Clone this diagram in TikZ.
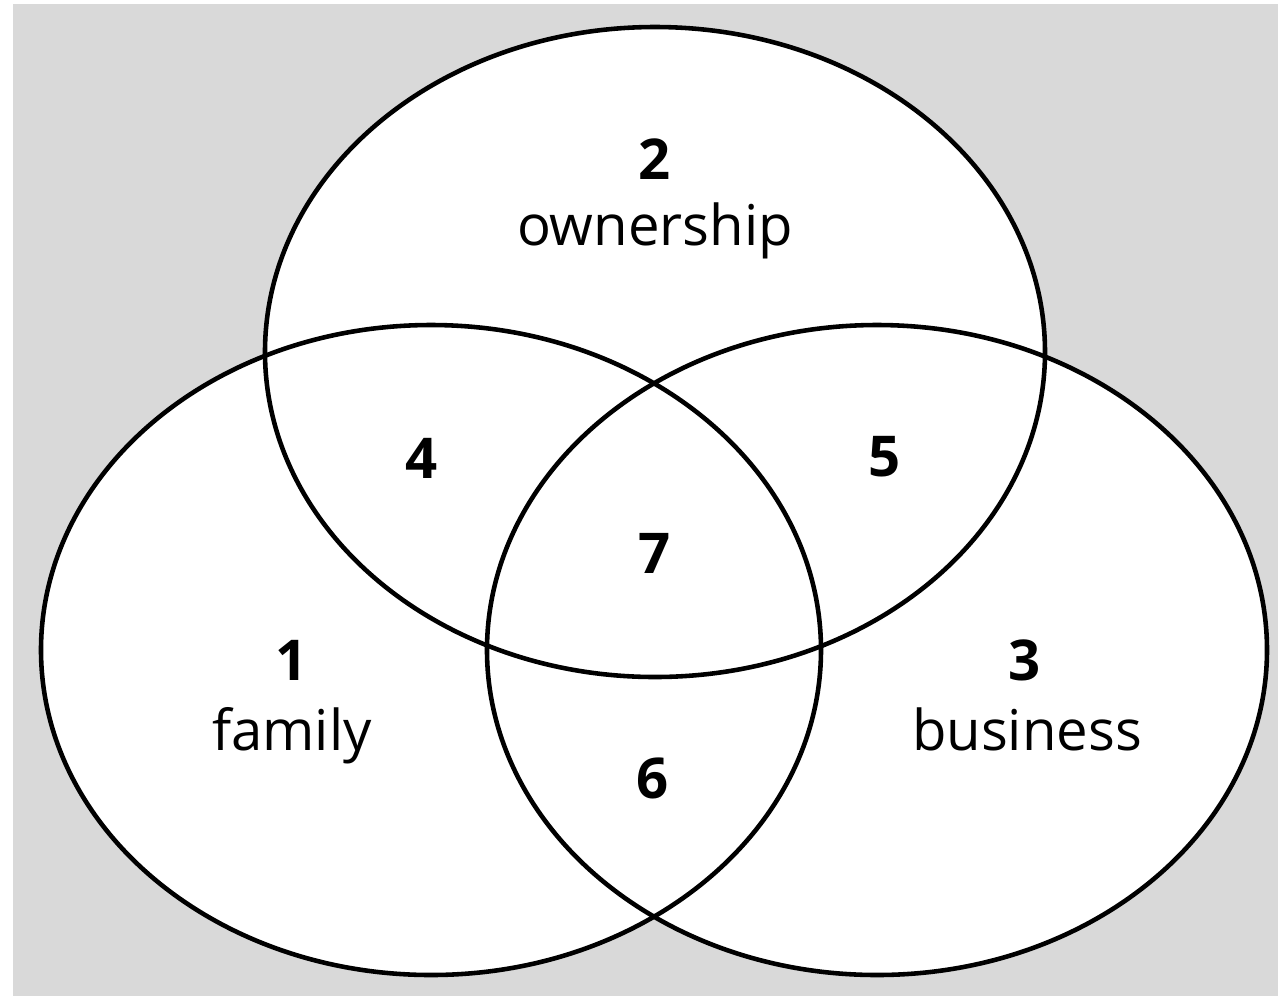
\documentclass[tikz,border=0pt]{standalone}
\usepackage{fontspec}
\setmainfont{Open Sans}
\usetikzlibrary{shapes.geometric}
\definecolor{bggray}{HTML}{D9D9D9}
\begin{document}
\begin{tikzpicture}[x=0.01cm,y=-0.01cm,
  setbox/.style={ellipse,draw=none,fill=white,inner sep=0pt,
    minimum width=7.8cm,minimum height=6.5cm},
  outline/.style={line width=1.3pt,draw=black},
  lbl/.style={anchor=base,font=\fontsize{16}{18}\selectfont,inner sep=0pt},
  num/.style={lbl,font=\fontsize{16}{18}\selectfont\bfseries}]
\useasboundingbox (0,0) rectangle (1278,996);
\fill[bggray] (13,4) rectangle (1278,996);
% fills first
\node[setbox] (top) at (655,352) {};
\node[setbox] (left) at (431,650) {};
\node[setbox] (right) at (877,650) {};
% outlines
\draw[outline] (top.center) ellipse [x radius=390,y radius=325];
\draw[outline] (left.center) ellipse [x radius=390,y radius=325];
\draw[outline] (right.center) ellipse [x radius=390,y radius=325];
% labels
\node[num] (n2) at (655,179) {2};
\node[lbl] (own) at (655,245) {ownership};
\node[num] (n4) at (422,478) {4};
\node[num] (n5) at (885,476) {5};
\node[num] (n7) at (655,573) {7};
\node[num] (n1) at (292,680) {1};
\node[lbl] (fam) at (292,750) {family};
\node[num] (n3) at (1025,680) {3};
\node[lbl] (bus) at (1027,750) {business};
\node[num] (n6) at (653,798) {6};
\end{tikzpicture}
\end{document}
